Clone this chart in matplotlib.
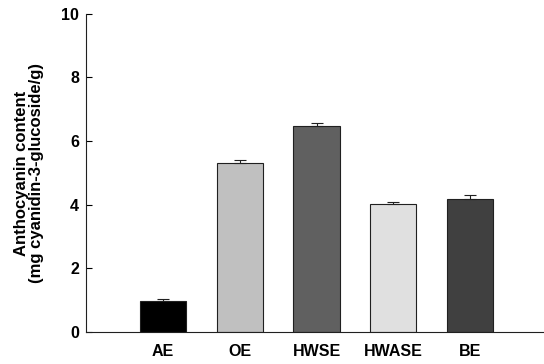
import matplotlib
matplotlib.use("Agg")
import matplotlib.pyplot as plt
import numpy as np

# anthocyanin content per extract (mean and upper error)
extracts = ["AE", "OE", "HWSE", "HWASE", "BE"]
content = [0.97, 5.30, 6.46, 4.03, 4.18]
errors = [0.08, 0.12, 0.10, 0.07, 0.12]
fills = ["#000000", "#c0c0c0", "#606060", "#e0e0e0", "#404040"]

plt.rcParams["font.family"] = ["Liberation Sans", "DejaVu Sans"]
plt.rcParams["font.weight"] = "bold"

fig = plt.figure(figsize=(5.44, 3.64), dpi=100)
ax = fig.add_axes([0.158, 0.088, 0.842, 0.874])

x = np.arange(len(extracts))
ax.bar(x, content, width=0.6, color=fills, edgecolor="#202020", linewidth=0.8,
       yerr=[np.zeros(len(errors)), errors], capsize=4,
       error_kw=dict(ecolor="#202020", elinewidth=0.8, capthick=0.8))

ax.set_xlim(-1.0, 4.96)
ax.set_ylim(0, 10)
ax.set_yticks([0, 2, 4, 6, 8, 10])
ax.set_xticks(x)
ax.set_xticklabels(extracts, fontsize=11.5, fontweight="bold")
ax.tick_params(axis="y", labelsize=11.5, direction="in", length=4, width=0.8, pad=5)
ax.tick_params(axis="x", length=0, pad=9)
for lab in ax.get_yticklabels():
    lab.set_fontweight("bold")

ax.spines["top"].set_visible(False)
ax.spines["right"].set_visible(False)
for s in ("left", "bottom"):
    ax.spines[s].set_linewidth(0.8)
    ax.spines[s].set_color("#202020")

ax.set_ylabel("Anthocyanin content\n(mg cyanidin-3-glucoside/g)",
              fontsize=12, fontweight="bold", labelpad=12, linespacing=1.0)

fig.savefig("out.png", dpi=100)
